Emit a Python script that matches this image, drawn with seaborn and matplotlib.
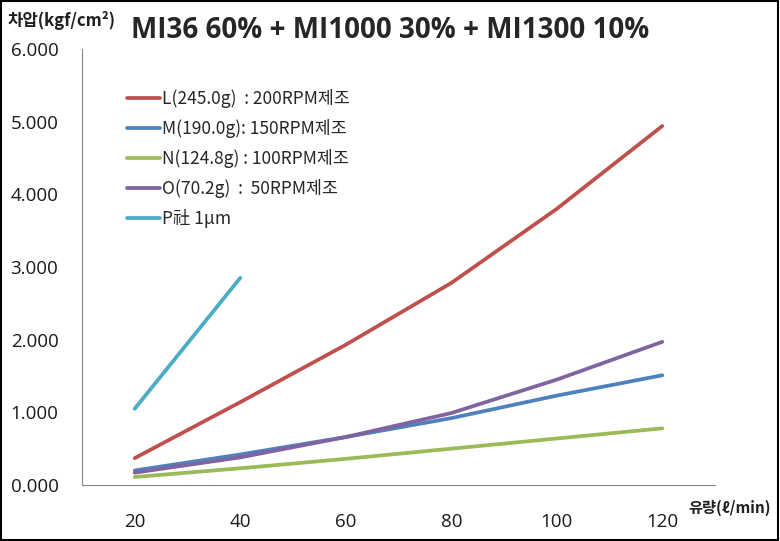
import matplotlib
matplotlib.use("Agg")
import matplotlib.pyplot as plt
import seaborn as sns
import pandas as pd
from matplotlib.patches import Rectangle

flow = [20, 40, 60, 80, 100, 120]
flow_p = [20, 40]
series_names = ["L(245.0g)  : 200RPM제조", "M(190.0g): 150RPM제조",
                "N(124.8g) : 100RPM제조", "O(70.2g)  :  50RPM제조", "P社 1μm"]
L_vals = [0.37, 1.14, 1.93, 2.78, 3.80, 4.94]
M_vals = [0.20, 0.42, 0.66, 0.92, 1.23, 1.51]
N_vals = [0.11, 0.23, 0.36, 0.50, 0.64, 0.78]
O_vals = [0.17, 0.38, 0.66, 0.99, 1.45, 1.97]
P_vals = [1.05, 2.85]
colors = ["#C0504D", "#4F81BD", "#9BBB59", "#8064A2", "#4BACC6"]
y_ticks = [0, 1, 2, 3, 4, 5, 6]
x_labels = [20, 40, 60, 80, 100, 120]

rows = []
for name, xs, ys in zip(series_names,
                        [flow, flow, flow, flow, flow_p],
                        [L_vals, M_vals, N_vals, O_vals, P_vals]):
    for x, y in zip(xs, ys):
        rows.append({"flow": x, "dp": y, "series": name})
df = pd.DataFrame(rows)

sns.set_style("white")
plt.rcParams["font.family"] = ["Noto Sans CJK KR", "DejaVu Sans"]

fig = plt.figure(figsize=(7.8, 5.41), dpi=100)
ax = fig.add_axes([82/780, 1-485/541, (715-82)/780, (485-49)/541])

sns.lineplot(data=df, x="flow", y="dp", hue="series", hue_order=series_names,
             palette=colors, linewidth=2.7, ax=ax, sort=False)

ax.set_xlim(10, 130)
ax.set_ylim(0, 6)
ax.set_xticks(range(10, 131, 10))
ax.set_xticklabels([str(v) if v in x_labels else "" for v in range(10, 131, 10)])
ax.set_yticks(y_ticks)
ax.set_yticklabels([f"{v:.3f}" for v in y_ticks])
ax.tick_params(axis="both", direction="out", length=5, width=0.8, color="#868686",
               labelsize=13.5, labelcolor="#1a1a1a")
ax.tick_params(axis="x", pad=15)
ax.tick_params(axis="y", pad=12)
for lab in ax.get_xticklabels() + ax.get_yticklabels():
    lab.set_fontfamily(["Open Sans", "DejaVu Sans"])
for s in ["top", "right"]:
    ax.spines[s].set_visible(False)
for s in ["left", "bottom"]:
    ax.spines[s].set_color("#868686")
    ax.spines[s].set_linewidth(0.8)
ax.set_xlabel("")
ax.set_ylabel("")

ax.legend(loc="upper left", bbox_to_anchor=(0.06, 0.925), frameon=False,
          fontsize=12.5, handlelength=1.9, handletextpad=0.1, labelspacing=0.64,
          borderaxespad=0)

fig.text(0.5, 1-30/541, "MI36 60% + MI1000 30% + MI1300 10%", ha="center",
         va="center", fontsize=20, fontweight="bold",
         family=["Open Sans", "DejaVu Sans"])
fig.text(8/780, 1-20/541, "차압(kgf/cm²)", ha="left", va="center", fontsize=12,
         fontweight="bold", color="#1F1F1F")
fig.text(688/780, 1-508/541, "유량(ℓ/min)", ha="left", va="center", fontsize=11,
         fontweight="bold", color="#1F1F1F")

fig.add_artist(Rectangle((0.001, 0.002), 0.997, 0.996, transform=fig.transFigure,
                         fill=False, edgecolor="black", linewidth=1.5))

fig.savefig("out.png", dpi=100)
